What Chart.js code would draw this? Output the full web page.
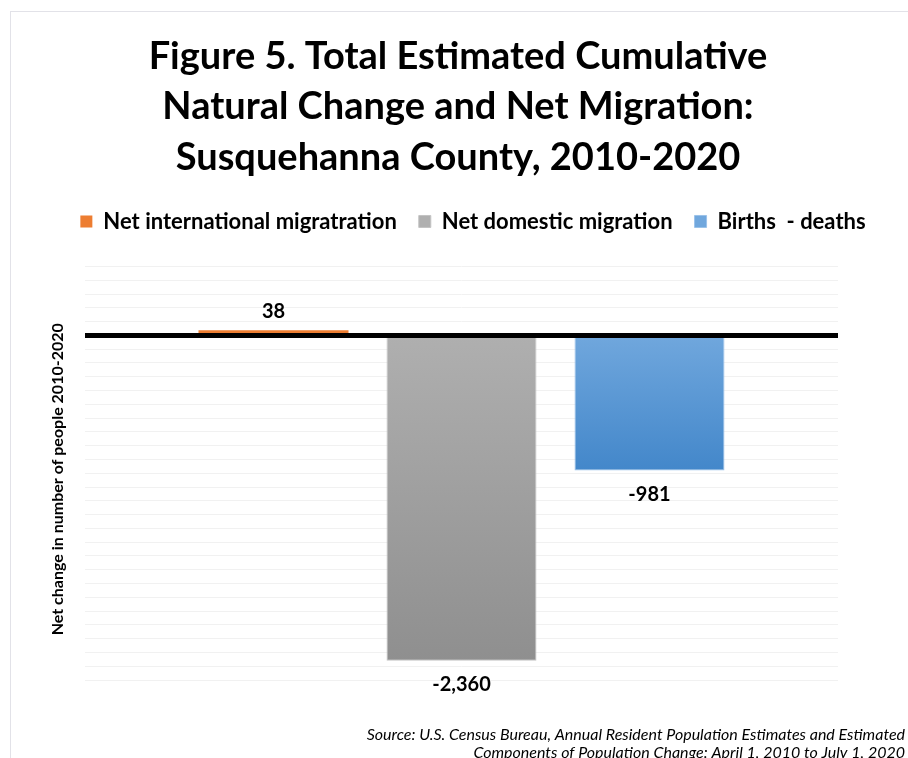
<!DOCTYPE html>
<html lang="en">
<head>
  <meta charset="UTF-8">
  <title>Figure 5</title>
  <style>
    html, body { margin: 0; padding: 0; background: #fff; overflow: hidden; }
    .frame { position: absolute; left: 10px; top: 11px; width: 1000px; height: 1000px; border: 1px solid #e2e2e8; }
    .wrap { position: absolute; left: 0; top: 0; width: 908px; height: 770px; }
  </style>
</head>
<body>
  <div class="frame"></div>
  <div class="wrap"><canvas id="chart"></canvas></div>

  <script src="https://cdn.jsdelivr.net/npm/chart.js"></script>
  <script>
    // data
    const categories = ['2010-2020'];
    const seriesNames = ['Net international migratration', 'Net domestic migration', 'Births  - deaths'];
    const intlValues = [38];
    const domesticValues = [-2360];
    const naturalValues = [-981];
    const yMin = -2500;
    const yMax = 500;
    const yStep = 100;
    const yTitle = 'Net change in number of people 2010-2020';
    const sourceLines = [
      'Source: U.S. Census Bureau, Annual Resident Population Estimates and Estimated',
      'Components of Population Change: April 1, 2010 to July 1, 2020'
    ];

    // gradient per bar, from the zero line to the value
    function barGradient(topColor, bottomColor) {
      return function (context) {
        const chart = context.chart;
        if (!chart.chartArea || context.parsed == null) return bottomColor;
        const y = chart.scales.y;
        const y0 = y.getPixelForValue(0);
        const y1 = y.getPixelForValue(context.parsed.y);
        if (Math.abs(y1 - y0) < 1) return bottomColor;
        const g = chart.ctx.createLinearGradient(0, Math.min(y0, y1), 0, Math.max(y0, y1));
        g.addColorStop(0, topColor);
        g.addColorStop(1, bottomColor);
        return g;
      };
    }

    // legend on one row (it is wider than the plot) and a gap below it
    const legendFit = {
      id: 'legendFit',
      beforeInit(chart) {
        const fit = chart.legend.fit;
        chart.legend.fit = function () {
          this.maxWidth = 1000;
          fit.bind(chart.legend)();
          this.height += 24;
        };
      },
      afterLayout(chart) {
        chart.legend.left = 40;
        chart.legend.right = 906;
        chart.legend.width = 866;
      }
    };

    // zero line, value labels, axis title, source note
    const extras = {
      id: 'extras',
      afterDatasetsDraw(chart) {
        const ctx = chart.ctx;
        const area = chart.chartArea;
        const y0 = chart.scales.y.getPixelForValue(0);
        ctx.save();
        ctx.strokeStyle = '#000';
        ctx.lineWidth = 5;
        ctx.beginPath();
        ctx.moveTo(area.left, y0);
        ctx.lineTo(area.right, y0);
        ctx.stroke();

        ctx.font = 'bold 20px Lato';
        ctx.fillStyle = '#000';
        ctx.textAlign = 'center';
        chart.data.datasets.forEach((ds, i) => {
          chart.getDatasetMeta(i).data.forEach((bar, j) => {
            const v = ds.data[j];
            const txt = v.toLocaleString('en-US');
            if (v >= 0) {
              ctx.textBaseline = 'bottom';
              ctx.fillText(txt, bar.x, bar.y - 9);
            } else {
              ctx.textBaseline = 'top';
              ctx.fillText(txt, bar.x, bar.y + 14);
            }
          });
        });

        ctx.save();
        ctx.translate(58, (area.top + area.bottom) / 2 + 6);
        ctx.rotate(-Math.PI / 2);
        ctx.font = 'bold 16px Lato';
        ctx.textBaseline = 'middle';
        ctx.fillText(yTitle, 0, 0);
        ctx.restore();

        ctx.font = 'italic 16px Lato';
        ctx.textAlign = 'right';
        ctx.textBaseline = 'middle';
        sourceLines.forEach((s, k) => ctx.fillText(s, 905, 735 + k * 18));
        ctx.restore();
      }
    };

    const ctx = document.getElementById('chart').getContext('2d');
    new Chart(ctx, {
      type: 'bar',
      data: {
        labels: categories,
        datasets: [
          {
            label: seriesNames[0],
            data: intlValues,
            backgroundColor: '#ed7d31',
            borderWidth: 0
          },
          {
            label: seriesNames[1],
            data: domesticValues,
            backgroundColor: barGradient('#afafaf', '#8f8f8f'),
            borderColor: '#c4c4c4',
            borderWidth: 1
          },
          {
            label: seriesNames[2],
            data: naturalValues,
            backgroundColor: barGradient('#70a7dd', '#4387ca'),
            borderColor: '#9cc3ea',
            borderWidth: 1
          }
        ]
      },
      options: {
        responsive: true,
        maintainAspectRatio: false,
        animation: false,
        categoryPercentage: 0.749,
        barPercentage: 0.798,
        layout: { padding: { left: 78, right: 70, top: 0, bottom: 90 } },
        scales: {
          x: { display: false },
          y: {
            min: yMin,
            max: yMax,
            afterFit(scale) { scale.width = 7; },
            ticks: { display: false, stepSize: yStep },
            border: { display: false },
            grid: { drawTicks: false, color: '#f1f1f1', lineWidth: 1 }
          }
        },
        plugins: {
          title: {
            display: true,
            text: ['Figure 5. Total Estimated Cumulative', 'Natural Change and Net Migration:', 'Susquehanna County, 2010-2020'],
            color: '#000',
            font: { family: 'Lato', size: 38, weight: 'bold', lineHeight: 1.32 },
            padding: { top: 32, bottom: 6 }
          },
          legend: {
            display: true,
            position: 'top',
            labels: {
              color: '#000',
              font: { family: 'Lato', size: 22, weight: 'bold' },
              boxWidth: 12,
              boxHeight: 12,
              padding: 22
            }
          },
          tooltip: { enabled: false }
        }
      },
      plugins: [legendFit, extras]
    });
  </script>
</body>
</html>
